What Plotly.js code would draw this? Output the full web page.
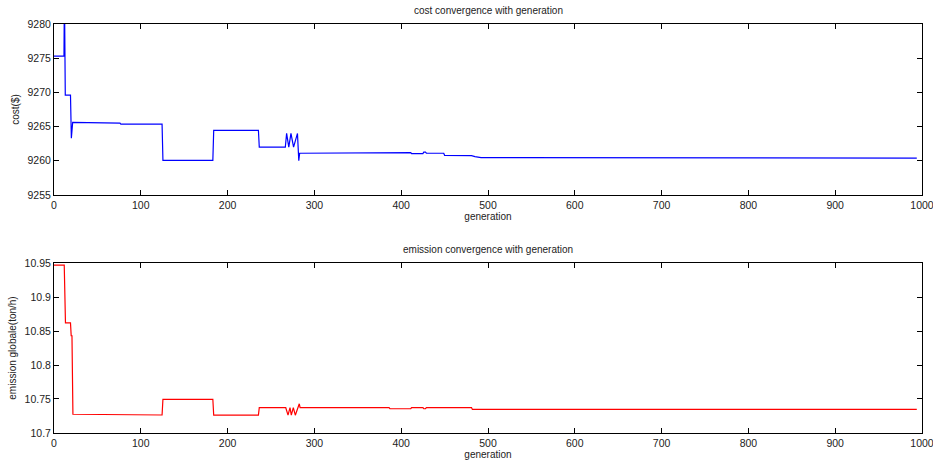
<!DOCTYPE html>
<html>
<head>
<meta charset="utf-8">
<script src="https://cdn.plot.ly/plotly-3.0.1.min.js"></script>
<style>html,body{margin:0;padding:0;background:#fff;}#chart{width:933px;height:463px;}</style>
</head>
<body>
<div id="chart"></div>
<script>
// cost convergence breakpoints
var costGen = [0, 11.5, 12, 13, 19, 20, 21.5, 46, 47, 76, 77, 124.5, 125.5, 183, 184, 235.5, 236.5, 266.5, 268, 270.5, 273, 276, 280.5, 282, 283, 386, 387, 411, 412, 425, 426, 428, 429, 449, 450, 481, 485, 492, 994];
var costVal = [9275.3, 9275.3, 9285, 9269.6, 9269.6, 9263.3, 9265.6, 9265.6, 9265.5, 9265.5, 9265.35, 9265.35, 9260.05, 9260.05, 9264.45, 9264.45, 9262.0, 9262.0, 9264.0, 9262.0, 9264.0, 9262.0, 9264.0, 9260.0, 9261.1, 9261.1, 9261.2, 9261.2, 9261.05, 9261.05, 9261.25, 9261.25, 9261.1, 9261.1, 9260.8, 9260.75, 9260.6, 9260.45, 9260.4];

// emission convergence breakpoints
var emisGen = [0, 11.8, 13.2, 19, 19.8, 20.7, 21.8, 46, 47, 124.5, 125.5, 183, 184, 235.5, 236.5, 267, 269.6, 271.9, 273.4, 275.7, 278, 282.6, 283.5, 386, 387, 411, 412, 425, 426, 428, 429, 481, 482, 994];
var emisVal = [10.947, 10.947, 10.862, 10.862, 10.843, 10.843, 10.7276, 10.7276, 10.7265, 10.7265, 10.7495, 10.7495, 10.7262, 10.7262, 10.7372, 10.7372, 10.7262, 10.7372, 10.7262, 10.7372, 10.7262, 10.743, 10.7372, 10.7372, 10.7357, 10.7357, 10.7374, 10.7374, 10.7357, 10.7357, 10.7374, 10.7374, 10.7347, 10.7347];

var xTicks = [0, 100, 200, 300, 400, 500, 600, 700, 800, 900, 1000];
var costTicks = [9255, 9260, 9265, 9270, 9275, 9280];
var emisTicks = [10.7, 10.75, 10.8, 10.85, 10.9, 10.95];
var emisTickText = ['10.7', '10.75', '10.8', '10.85', '10.9', '10.95'];

var font = {family: 'Liberation Sans, Arial, sans-serif', size: 10, color: '#222'};

var traces = [
  {x: costGen, y: costVal, type: 'scatter', mode: 'lines', line: {color: '#0000ff', width: 1.2}, xaxis: 'x', yaxis: 'y', hoverinfo: 'skip'},
  {x: emisGen, y: emisVal, type: 'scatter', mode: 'lines', line: {color: '#ff0000', width: 1.2}, xaxis: 'x2', yaxis: 'y2', hoverinfo: 'skip'}
];

function xax(anchor) {
  return {
    domain: [0, 1], anchor: anchor, range: [0, 1000], tickvals: xTicks, ticktext: xTicks.map(String),
    ticks: 'inside', ticklen: 5, tickcolor: '#000', showline: true, linecolor: '#000', linewidth: 1,
    mirror: 'ticks', showgrid: false, zeroline: false, ticklabeloverflow: 'allow',
    tickfont: {family: font.family, size: 10.5, color: '#222'},
    title: {text: 'generation', font: {family: font.family, size: 10, color: '#222'}, standoff: 2}
  };
}
function yax(anchor, dom, rng, tv, tt, title) {
  return {
    domain: dom, anchor: anchor, range: rng, tickvals: tv, ticktext: tt,
    ticks: 'inside', ticklen: 5, tickcolor: '#000', showline: true, linecolor: '#000', linewidth: 1,
    mirror: 'ticks', showgrid: false, zeroline: false, tickfont: {family: font.family, size: 10.5, color: '#222'},
    title: {text: title, font: {family: font.family, size: 10, color: '#222'}, standoff: 6}
  };
}

var layout = {
  width: 933, height: 463,
  margin: {l: 54, r: 11, t: 24, b: 30},
  paper_bgcolor: '#fff', plot_bgcolor: '#fff',
  showlegend: false, font: font,
  xaxis: xax('y'),
  yaxis: yax('x', [0.582, 1], [9255, 9280], costTicks, costTicks.map(String), 'cost($)'),
  xaxis2: xax('y2'),
  yaxis2: yax('x2', [0, 0.4156], [10.7, 10.95], emisTicks, emisTickText, 'emission globale(ton/h)'),
  annotations: [
    {text: 'cost convergence with generation', xref: 'paper', yref: 'paper', x: 0.5, y: 1, yshift: 6, xanchor: 'center', yanchor: 'bottom', showarrow: false, font: {family: font.family, size: 10, color: '#222'}},
    {text: 'emission convergence with generation', xref: 'paper', yref: 'paper', x: 0.5, y: 0.4156, yshift: 6, xanchor: 'center', yanchor: 'bottom', showarrow: false, font: {family: font.family, size: 10, color: '#222'}}
  ]
};

Plotly.newPlot('chart', traces, layout, {staticPlot: true, displayModeBar: false});
</script>
</body>
</html>
